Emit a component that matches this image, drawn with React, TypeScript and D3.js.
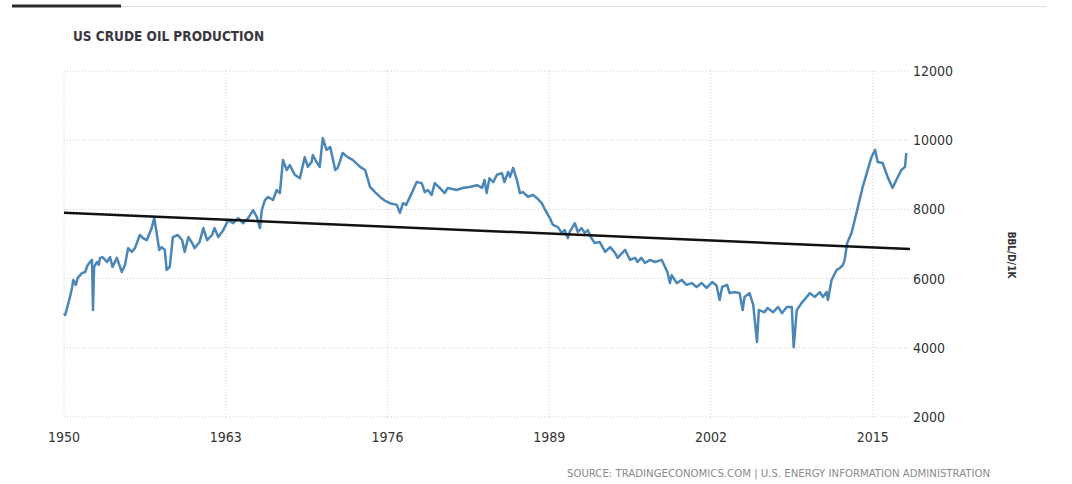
import React from 'react';
import * as d3 from 'd3';

// readings taken off the source chart (year as decimal, thousand bbl/day)
const years = [
  1950.0, 1950.1, 1950.5, 1950.64, 1950.75, 1950.95, 1951.1, 1951.45, 1951.7, 1951.9, 1952.25, 1952.33,
  1952.42, 1952.65, 1952.8, 1952.9, 1953.1, 1953.45, 1953.7, 1953.9, 1954.25, 1954.65, 1954.9, 1955.15,
  1955.45, 1955.7, 1956.1, 1956.35, 1956.65, 1957.05, 1957.25, 1957.45, 1957.65, 1957.85, 1958.1, 1958.25,
  1958.5, 1958.75, 1959.15, 1959.5, 1959.7, 1960.0, 1960.3, 1960.5, 1960.9, 1961.2, 1961.5, 1961.9,
  1962.1, 1962.4, 1962.8, 1963.2, 1963.6, 1964.0, 1964.4, 1964.8, 1965.2, 1965.5, 1965.75, 1965.9,
  1966.15, 1966.4, 1966.8, 1967.1, 1967.35, 1967.6, 1967.9, 1968.15, 1968.55, 1968.96, 1969.35, 1969.6,
  1969.9, 1970.0, 1970.3, 1970.55, 1970.8, 1971.1, 1971.4, 1971.8, 1972.0, 1972.4, 1972.8, 1973.2,
  1973.8, 1974.2, 1974.6, 1975.0, 1975.4, 1975.8, 1976.2, 1976.75, 1977.0, 1977.25, 1977.5, 1977.95,
  1978.35, 1978.75, 1979.0, 1979.25, 1979.55, 1979.8, 1980.2, 1980.6, 1980.85, 1981.55, 1982.05, 1982.6,
  1983.2, 1983.6, 1983.8, 1983.97, 1984.2, 1984.5, 1984.8, 1985.2, 1985.4, 1985.7, 1985.85, 1986.1,
  1986.4, 1986.65, 1986.9, 1987.3, 1987.7, 1988.0, 1988.4, 1988.65, 1989.05, 1989.3, 1989.7, 1990.0,
  1990.25, 1990.5, 1990.65, 1991.06, 1991.3, 1991.6, 1991.85, 1992.1, 1992.4, 1992.65, 1993.05, 1993.5,
  1993.9, 1994.3, 1994.5, 1995.1, 1995.5, 1995.9, 1996.1, 1996.4, 1996.7, 1997.1, 1997.5, 1998.05,
  1998.3, 1998.5, 1998.7, 1998.85, 1999.25, 1999.65, 2000.05, 2000.45, 2000.85, 2001.25, 2001.65, 2002.1,
  2002.45, 2002.7, 2002.9, 2003.3, 2003.5, 2003.9, 2004.3, 2004.55, 2004.7, 2005.1, 2005.4, 2005.7,
  2005.85, 2006.3, 2006.55, 2007.0, 2007.4, 2007.7, 2008.1, 2008.5, 2008.65, 2008.9, 2009.3, 2009.7,
  2009.95, 2010.35, 2010.75, 2011.0, 2011.3, 2011.4, 2011.7, 2012.1, 2012.35, 2012.6, 2012.75, 2012.95,
  2013.3, 2013.7, 2014.2, 2014.6, 2014.9, 2015.2, 2015.4, 2015.8, 2016.2, 2016.6, 2016.9, 2017.3,
  2017.6, 2017.7,
];

const production = [
  5000, 4950, 5500, 5730, 5960, 5820, 6020, 6160, 6190, 6390, 6540, 5090,
  6340, 6480, 6400, 6600, 6620, 6480, 6620, 6340, 6600, 6190, 6390, 6880,
  6770, 6880, 7260, 7170, 7110, 7460, 7750, 7320, 6830, 6910, 6830, 6250,
  6340, 7200, 7260, 7110, 6770, 7200, 7030, 6880, 7060, 7460, 7110, 7260,
  7460, 7200, 7400, 7690, 7600, 7750, 7600, 7750, 7980, 7780, 7460, 7980,
  8270, 8360, 8270, 8560, 8470, 9430, 9140, 9280, 9000, 8900, 9510, 9230,
  9370, 9570, 9370, 9230, 10060, 9720, 9800, 9140, 9200, 9630, 9510, 9430,
  9230, 9140, 8650, 8500, 8360, 8250, 8180, 8130, 7900, 8180, 8130, 8470,
  8790, 8760, 8500, 8560, 8420, 8760, 8620, 8470, 8620, 8560, 8620, 8650,
  8700, 8620, 8850, 8470, 8900, 8790, 9000, 9050, 8790, 9080, 8940, 9200,
  8850, 8470, 8500, 8360, 8420, 8330, 8180, 8000, 7750, 7550, 7490, 7320,
  7400, 7170, 7350, 7600, 7350, 7460, 7320, 7400, 7170, 7030, 7060, 6770,
  6910, 6740, 6600, 6830, 6540, 6600, 6480, 6600, 6450, 6540, 6480, 6540,
  6340, 6190, 5870, 6100, 5870, 5960, 5820, 5870, 5760, 5870, 5730, 5900,
  5800, 5380, 5760, 5820, 5580, 5610, 5580, 5090, 5470, 5580, 5240, 4170,
  5090, 5030, 5150, 5030, 5180, 5000, 5180, 5180, 4020, 5090, 5300, 5470,
  5580, 5470, 5610, 5470, 5610, 5380, 5960, 6250, 6300, 6390, 6540, 7030,
  7320, 7900, 8650, 9140, 9510, 9720, 9370, 9340, 8940, 8620, 8850, 9140,
  9230, 9630,
];

// straight trend line drawn over the series
const trendYears = [1950, 2018];
const trendValues = [7900, 6855];

const xTicks = [1950, 1963, 1976, 1989, 2002, 2015];
const yTicks = [2000, 4000, 6000, 8000, 10000, 12000];

const FONT = '"DejaVu Sans Condensed", "DejaVu Sans", sans-serif';

export default function App() {
  const width = 1072;
  const height = 484;

  const x = d3.scaleLinear().domain([1950, 2018]).range([64, 910]);
  const y = d3.scaleLinear().domain([2000, 12000]).range([417, 71]);

  const points = years.map((yr, i) => [yr, production[i]] as [number, number]);
  const line = d3
    .line<[number, number]>()
    .x((d) => x(d[0]))
    .y((d) => y(d[1]));

  const trend = trendYears.map((yr, i) => [yr, trendValues[i]] as [number, number]);

  return (
    <div style={{ position: 'absolute', left: 0, top: 0 }}>
      <svg width={width} height={height} style={{ display: 'block', background: '#fff' }}>
        {/* header rules */}
        <line x1={12} x2={121} y1={6} y2={6} stroke="#2b2b2b" strokeWidth={3} />
        <line x1={121} x2={1046} y1={6.5} y2={6.5} stroke="#dcdcdc" strokeWidth={1} />

        <text x={73} y={41} fontFamily={FONT} fontSize={13.5} fontWeight="bold" fill="#3a3640">
          US CRUDE OIL PRODUCTION
        </text>

        {/* grid */}
        {yTicks.map((t) => (
          <line
            key={'h' + t}
            x1={64}
            x2={908}
            y1={y(t)}
            y2={y(t)}
            stroke="#cfcfcf"
            strokeWidth={1}
            strokeDasharray="1,2"
          />
        ))}
        {xTicks.map((t) => (
          <line
            key={'v' + t}
            x1={x(t)}
            x2={x(t)}
            y1={y(12000)}
            y2={y(2000)}
            stroke="#d6d6d6"
            strokeWidth={1}
            strokeDasharray="1,2"
          />
        ))}

        {/* series */}
        <path
          d={line(points) ?? ''}
          fill="none"
          stroke="#4a86b8"
          strokeWidth={2.5}
          strokeLinejoin="round"
        />
        <path d={line(trend) ?? ''} fill="none" stroke="#111" strokeWidth={2.5} />

        {/* axis labels */}
        {yTicks.map((t) => (
          <text
            key={'yl' + t}
            x={913}
            y={y(t)}
            dy="0.35em"
            fontFamily={FONT}
            fontSize={14}
            fill="#333"
          >
            {t}
          </text>
        ))}
        {xTicks.map((t) => (
          <text
            key={'xl' + t}
            x={x(t)}
            y={442}
            textAnchor="middle"
            fontFamily={FONT}
            fontSize={14}
            fill="#333"
          >
            {t}
          </text>
        ))}

        <text
          transform="translate(1008,255) rotate(90)"
          textAnchor="middle"
          fontFamily={FONT}
          fontSize={10}
          fontWeight="bold"
          fill="#333"
        >
          BBL/D/1K
        </text>

        <text
          x={990}
          y={477}
          textAnchor="end"
          fontFamily={FONT}
          fontSize={10}
          fill="#8a8a8a"
          textLength={423}
          lengthAdjust="spacingAndGlyphs"
        >
          SOURCE: TRADINGECONOMICS.COM | U.S. ENERGY INFORMATION ADMINISTRATION
        </text>
      </svg>
    </div>
  );
}
